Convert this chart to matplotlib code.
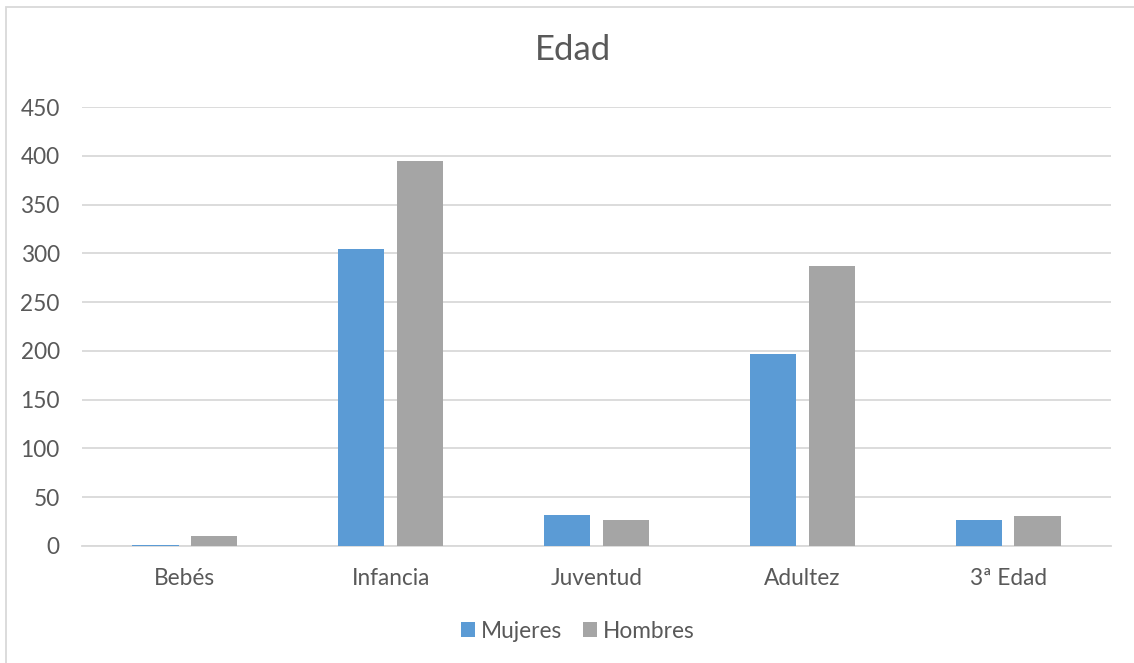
import matplotlib
matplotlib.use("Agg")
import matplotlib.pyplot as plt
from matplotlib.patches import Rectangle
import numpy as np

categories = ["Bebés", "Infancia", "Juventud", "Adultez", "3ª Edad"]
mujeres = [1, 304, 32, 197, 27]
hombres = [10, 395, 27, 287, 31]
yticks = [0, 50, 100, 150, 200, 250, 300, 350, 400, 450]

plt.rcParams["font.family"] = ["Lato", "DejaVu Sans"]
TEXT = "#595959"
GRID = "#D9D9D9"

W, H = 1134, 663
fig = plt.figure(figsize=(W / 100, H / 100), dpi=100)
fig.patch.set_facecolor("white")

# chart frame (clipped at right/bottom edges)
fig.add_artist(Rectangle((6 / W, -0.05), 1.2, (H - 7) / H + 0.05,
                         transform=fig.transFigure, fill=False,
                         edgecolor=GRID, linewidth=1.3))

ax = fig.add_axes([82 / W, (H - 546) / H, (1111 - 82) / W, (546 - 107) / H])

x = np.arange(len(categories))
w = 0.224
off = 0.143
ax.bar(x - off, mujeres, width=w, color="#5B9BD5", label="Mujeres", zorder=3)
ax.bar(x + off, hombres, width=w, color="#A5A5A5", label="Hombres", zorder=3)

ax.set_xlim(-0.5, len(categories) - 0.5)
ax.set_ylim(0, 450)
ax.set_yticks(yticks)
ax.set_xticks(x)
ax.set_xticklabels(categories)
ax.yaxis.grid(True, color=GRID, linewidth=1.3, zorder=0)
ax.set_axisbelow(True)
for s in ["top", "right", "left"]:
    ax.spines[s].set_visible(False)
ax.spines["bottom"].set_color(GRID)
ax.spines["bottom"].set_linewidth(1.3)
ax.tick_params(axis="both", length=0, labelsize=16.3, labelcolor=TEXT)
ax.tick_params(axis="y", pad=16)
ax.tick_params(axis="x", pad=16)

fig.text(573 / W, 1 - 50 / H, "Edad", ha="center", va="center",
         fontsize=25, color=TEXT)

leg = fig.legend(loc="center", bbox_to_anchor=(578 / W, 1 - 631 / H), ncol=2,
                 frameon=False, fontsize=16.3, handlelength=0.62, handleheight=0.62,
                 handletextpad=0.28, columnspacing=0.9)
for t in leg.get_texts():
    t.set_color(TEXT)

fig.savefig("out.png", dpi=100, facecolor="white")
